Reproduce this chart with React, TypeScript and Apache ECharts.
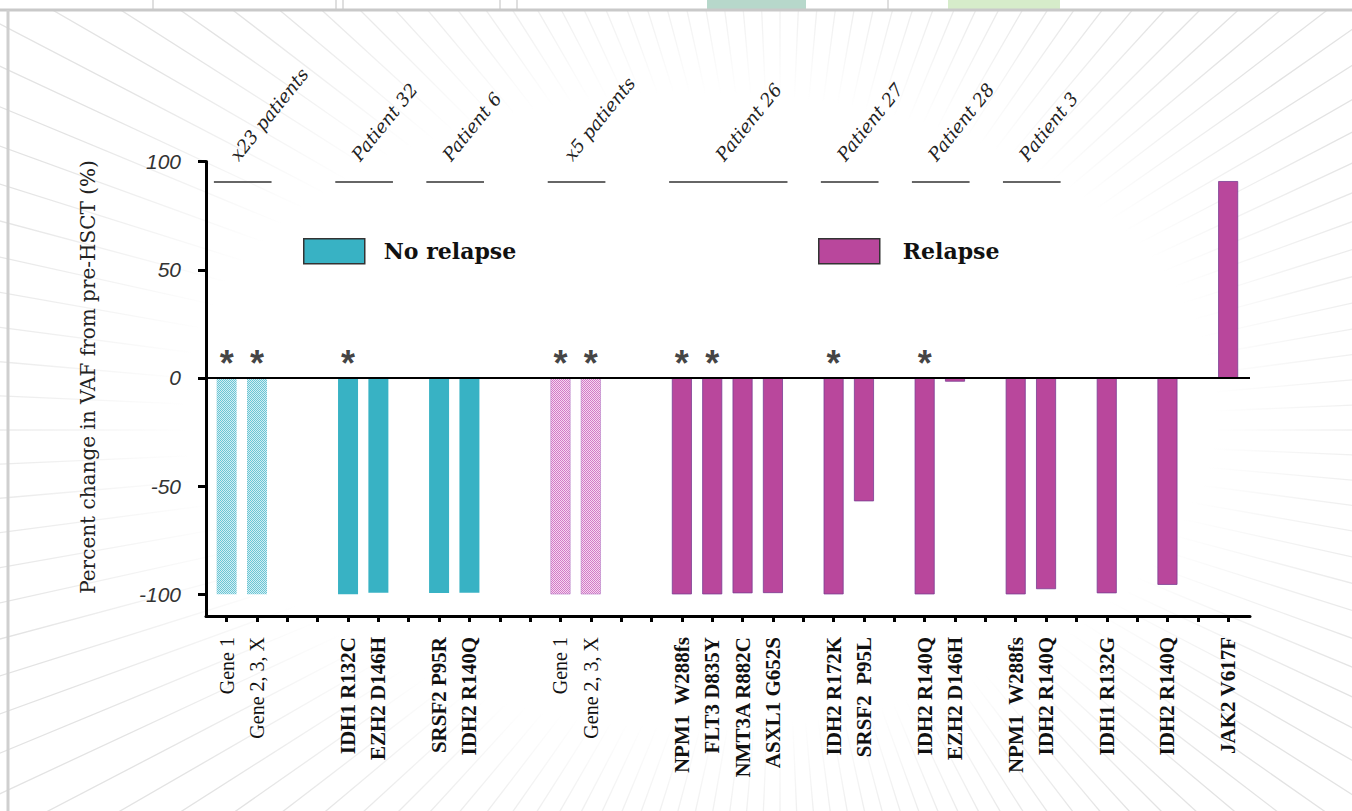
import React, { useEffect, useRef } from 'react';
import * as echarts from 'echarts';

// ---- data ----
const categories: string[] = [
  'Gene 1', 'Gene 2, 3, X', '', '', 'IDH1 R132C', 'EZH2 D146H', '', 'SRSF2 P95R', 'IDH2 R140Q', '', '',
  'Gene 1', 'Gene 2, 3, X', '', '', 'NPM1  W288fs', 'FLT3 D835Y', 'NMT3A R882C', 'ASXL1 G652S', '',
  'IDH2 R172K', 'SRSF2  P95L', '', 'IDH2 R140Q', 'EZH2 D146H', '', 'NPM1  W288fs', 'IDH2 R140Q', '',
  'IDH1 R132G', '', 'IDH2 R140Q', '', 'JAK2 V617F',
];
const noRelapseValues: (number | null)[] = [
  -100, -100, null, null, -100, -99.3, null, -99.4, -99.3, null, null,
  null, null, null, null, null, null, null, null, null, null, null, null, null, null, null, null, null, null, null, null, null, null, null,
];
const relapseValues: (number | null)[] = [
  null, null, null, null, null, null, null, null, null, null, null,
  -100, -100, null, null, -100, -100, -99.5, -99.4, null,
  -100, -57, null, -100, -1.7, null, -100, -97.6, null,
  -99.5, null, -95.6, null, 91,
];
const pooledIdx: number[] = [0, 1, 11, 12];
const starIdx: number[] = [0, 1, 4, 11, 12, 15, 16, 20, 23];
const groupLabels: string[] = ['x23 patients', 'Patient 32', 'Patient 6', 'x5 patients', 'Patient 26', 'Patient 27', 'Patient 28', 'Patient 3'];
const groupStart: number[] = [0, 4, 7, 11, 15, 20, 23, 26];
const groupEnd: number[] = [1, 5, 8, 12, 18, 21, 24, 27];
const yTicks: number[] = [-100, -50, 0, 50, 100];
const yTitle = 'Percent change in VAF from pre-HSCT (%)';

const TEAL = '#38B2C4';
const MAGENTA = '#B9479C';
const STAR_LEVEL = 6.5;
const GROUP_LEVEL = 90.7;

function makePattern(bg: string, dot: string) {
  const c = document.createElement('canvas');
  c.width = 2; c.height = 2;
  const ctx = c.getContext('2d')!;
  ctx.fillStyle = bg; ctx.fillRect(0, 0, 2, 2);
  ctx.fillStyle = dot; ctx.fillRect(0, 0, 1, 1); ctx.fillRect(1, 1, 1, 1);
  return { image: c, repeat: 'repeat' };
}

export default function App() {
  const ref = useRef<HTMLDivElement>(null);
  useEffect(() => {
    if (!ref.current) return;
    const chart = echarts.init(ref.current, undefined, { renderer: 'svg' });
    const tealPat = makePattern('#d2eff4', '#6cc5d4');
    const magPat = makePattern('#f6d6f1', '#d27cc6');
    const allIdx = categories.map((_, i) => i);

    const noRelapseData = noRelapseValues
      .map((v, i) => (v == null ? null : {
        value: [i, v],
        itemStyle: pooledIdx.includes(i) ? { color: tealPat, borderWidth: 0 } : undefined,
      }))
      .filter(Boolean);
    const relapseData = relapseValues
      .map((v, i) => (v == null ? null : {
        value: [i, v],
        itemStyle: pooledIdx.includes(i) ? { color: magPat, borderWidth: 0.6, borderColor: '#b57cc4' } : undefined,
      }))
      .filter(Boolean);

    const legendBase = {
      orient: 'horizontal', padding: 0, itemWidth: 61, itemHeight: 25, icon: 'rect',
      selectedMode: false, top: 238,
      itemStyle: { borderColor: '#333', borderWidth: 1.5 },
    };
    const labelFont = { fontFamily: 'Liberation Serif', color: '#111' };

    const option: any = {
      animation: false,
      backgroundColor: '#ffffff',
      grid: { left: 206, right: 102, top: 161.6, bottom: 195, outerBoundsMode: 'none', containLabel: false },
      legend: [
        { ...legendBase, data: ['No relapse'], left: 303, textStyle: { fontFamily: 'DejaVu Serif', fontWeight: 'bold', fontSize: 22, color: '#111', padding: [0, 0, 0, 14] } },
        { ...legendBase, data: ['Relapse'], left: 818, textStyle: { fontFamily: 'DejaVu Serif', fontWeight: 'bold', fontSize: 22, color: '#111', padding: [0, 0, 0, 18] } },
      ],
      xAxis: {
        type: 'value', min: -0.68, max: 33.72,
        axisLine: { show: true, onZero: false, lineStyle: { color: '#000', width: 3 } },
        axisTick: { show: true, customValues: allIdx, length: 6, lineStyle: { color: '#000', width: 3 } },
        axisLabel: {
          customValues: allIdx, rotate: 90, margin: 21,
          ...labelFont, fontSize: 21, fontWeight: 'bold',
          formatter: (v: number) => {
            const i = Math.round(v);
            const c = categories[i] || '';
            if (!c) return '';
            return pooledIdx.includes(i) ? `{n|${c}}` : `{b|${c}}`;
          },
          rich: {
            b: { ...labelFont, fontSize: 21, fontWeight: 'bold' },
            n: { ...labelFont, fontSize: 20, fontWeight: 'normal' },
          },
        },
        splitLine: { show: false },
      },
      yAxis: {
        type: 'value', min: -110, max: 100,
        axisLine: { show: true, onZero: false, lineStyle: { color: '#000', width: 3 } },
        axisTick: { show: true, customValues: yTicks, length: 8, lineStyle: { color: '#000', width: 3 } },
        axisLabel: { customValues: yTicks, margin: 25, fontFamily: 'Liberation Sans', fontStyle: 'italic', fontSize: 21, color: '#333' },
        splitLine: { show: false },
      },
      series: [
        {
          type: 'bar', name: 'No relapse', data: noRelapseData, barWidth: 20, barGap: '-100%',
          itemStyle: { color: TEAL },
          markLine: {
            silent: true, symbol: 'none', label: { show: false },
            lineStyle: { color: '#000', width: 2, type: 'solid' },
            data: [{ yAxis: 0 }],
          },
        },
        {
          type: 'bar', name: 'Relapse', data: relapseData, barWidth: 20, barGap: '-100%',
          itemStyle: { color: MAGENTA, borderColor: '#7a3d93', borderWidth: 0.8 },
        },
        {
          type: 'scatter', name: 'stars', data: starIdx.map((i) => [i, STAR_LEVEL]),
          symbolSize: 1, itemStyle: { color: 'rgba(0,0,0,0)' }, silent: true,
          label: { show: true, formatter: '*', position: 'inside', fontFamily: 'Liberation Sans', fontWeight: 'bold', fontSize: 36, color: '#111' },
          markLine: {
            silent: true, symbol: 'none', label: { show: false },
            lineStyle: { color: '#666', width: 2, type: 'solid' },
            data: groupStart.map((s, k) => [
              { coord: [s - 0.42, GROUP_LEVEL] },
              { coord: [groupEnd[k] + 0.48, GROUP_LEVEL] },
            ]),
          },
        },
      ],
    };
    chart.setOption(option);

    // background decoration + annotations positioned from the chart's own scales
    const cx = 780, cy = 430;
    const bg: any[] = [];
    for (let a = 0; a < 360; a += 2.5) {
      const r = (a * Math.PI) / 180;
      bg.push({ type: 'line', silent: true, z: -30, shape: { x1: cx, y1: cy, x2: cx + 1700 * Math.cos(r), y2: cy + 1700 * Math.sin(r) }, style: { stroke: '#e3e3e3', lineWidth: 1.3 } });
    }
    bg.push({
      type: 'circle', silent: true, z: -29, x: 700, y: 410, scaleX: 780, scaleY: 480,
      shape: { cx: 0, cy: 0, r: 1 },
      style: { fill: new echarts.graphic.RadialGradient(0.5, 0.5, 0.5, [
        { offset: 0, color: 'rgba(255,255,255,1)' },
        { offset: 0.66, color: 'rgba(255,255,255,1)' },
        { offset: 1, color: 'rgba(255,255,255,0)' },
      ]) },
    });
    bg.push({ type: 'rect', silent: true, z: -28, shape: { x: 0, y: 0, width: 1352, height: 9 }, style: { fill: '#ffffff' } });
    bg.push({ type: 'rect', silent: true, z: -27, shape: { x: 707, y: 0, width: 99, height: 9 }, style: { fill: '#b7d8cb' } });
    bg.push({ type: 'rect', silent: true, z: -27, shape: { x: 948, y: 0, width: 112, height: 9 }, style: { fill: '#d6ecca' } });
    [153, 336, 343, 500, 517, 888].forEach((x) => bg.push({ type: 'line', silent: true, z: -27, shape: { x1: x, y1: 0, x2: x, y2: 9 }, style: { stroke: '#d5d5d5', lineWidth: 1.5 } }));
    bg.push({ type: 'line', silent: true, z: -26, shape: { x1: 0, y1: 10, x2: 1352, y2: 10 }, style: { stroke: '#c9c9c9', lineWidth: 3 } });
    bg.push({ type: 'line', silent: true, z: -26, shape: { x1: 8, y1: 10, x2: 8, y2: 811 }, style: { stroke: '#cfcfcf', lineWidth: 3 } });

    const labels: any[] = groupLabels.map((t, k) => {
      const mid = (groupStart[k] + groupEnd[k]) / 2 + 0.03;
      const p = chart.convertToPixel({ gridIndex: 0 }, [mid, GROUP_LEVEL]) as number[];
      return {
        type: 'text', z: 10, x: p[0] - 2, y: p[1] - 18, rotation: (51 * Math.PI) / 180,
        style: { text: t, fontFamily: 'DejaVu Serif', fontStyle: 'italic', fontSize: 18, fill: '#222', align: 'left', verticalAlign: 'bottom' },
      };
    });
    const zero = chart.convertToPixel({ gridIndex: 0 }, [0, 0]) as number[];
    labels.push({
      type: 'text', z: 10, x: 88, y: zero[1] - 1, rotation: Math.PI / 2,
      style: { text: yTitle, fontFamily: 'DejaVu Serif', fontSize: 20, fill: '#222', align: 'center', verticalAlign: 'middle' },
    });

    chart.setOption({ graphic: { elements: [...bg, ...labels] } });
    return () => chart.dispose();
  }, []);
  return <div ref={ref} style={{ position: 'fixed', left: 0, top: 0, width: 1352, height: 811 }} />;
}
